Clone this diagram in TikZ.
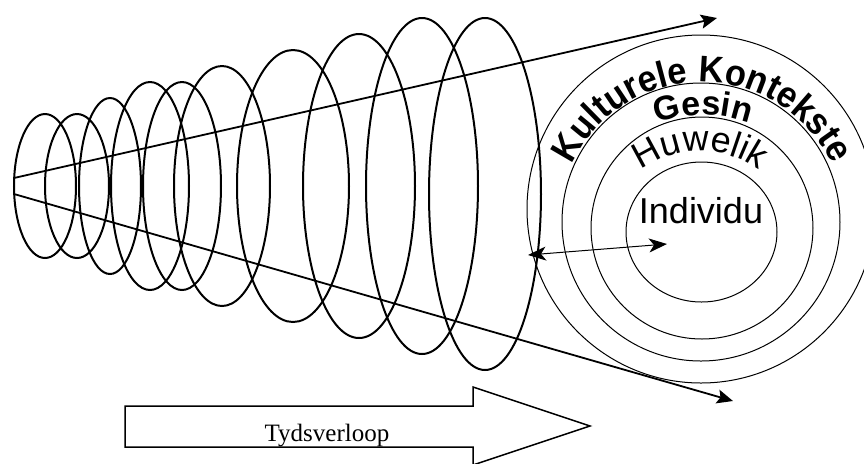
\documentclass[tikz,border=0pt]{standalone}
\usepackage{fontspec}
\setmainfont{Liberation Serif}
\newfontfamily\arialfont{Liberation Sans}
\newfontfamily\arialnarrow[FakeStretch=0.93]{Liberation Sans}
\usetikzlibrary{arrows.meta,decorations.text}

\newcommand\ctxfont{\arialnarrow\bfseries\fontsize{18.5}{18.5}\selectfont}
\newcommand\famfont{\arialfont\bfseries\fontsize{17}{17}\selectfont}
\newcommand\marfont{\arialfont\fontsize{18}{18}\selectfont}

\tikzset{
	ringline/.style={line width=0.5pt},
	coilline/.style={line width=1pt},
	timeray/.style={line width=0.9pt, -{Stealth[length=8pt,width=7pt,inset=1.5pt]}},
	duallink/.style={line width=0.5pt, {Stealth[length=9pt,width=7pt,inset=2.5pt]}-{Stealth[length=9pt,width=7pt,inset=2.5pt]}},
	arctext/.style={decorate, decoration={text along path, text align=center, text={#1}}}
}

\begin{document}
\begin{tikzpicture}[x=0.5pt, y=0.5pt]

	\useasboundingbox (0,0) rectangle (864,-463);

	\foreach \cx/\cy/\rx/\ry in {45/186/31/72, 77/186/32/72, 110/186/31/88, 150/186/39/104, 182/186/39/104, 222/186/48/120, 293/186/56/136, 359/186/56/152, 422/186/56/168, 485/194/56/176}
		\draw[coilline] (\cx,-\cy) ellipse[x radius=\rx, y radius=\ry];

	\draw[ringline] (701,-209) circle[radius=174];
	\draw[ringline] (701,-222) circle[radius=139];
	\draw[ringline] (702,-228) circle[radius=111];
	\draw[ringline] (701.5,-232) ellipse[x radius=75.5, y radius=70];

	\coordinate (uppstart) at (14,-178);
	\coordinate (uppend) at (717,-18);
	\coordinate (lowstart) at (14,-194);
	\coordinate (lowend) at (733,-401);
	\coordinate (ctxedge) at (528,-255);
	\coordinate (core) at (667,-244);

	\draw[timeray] (uppstart) -- (uppend);
	\draw[timeray] (lowstart) -- (lowend);
	\draw[duallink] (ctxedge) -- (core);

	\path[arctext={|\ctxfont|Kulturele Kontekste}] (702,-226) ++(170:144) arc[start angle=170, end angle=10, radius=144];
	\path[arctext={|\famfont|Gesin}] (703,-252) ++(120:137) arc[start angle=120, end angle=60, radius=137];
	\path[arctext={|\marfont|Huwelik}] (700,-252) ++(140:101) arc[start angle=140, end angle=40, radius=101];
	\node[anchor=base, font=\marfont, inner sep=0pt] (individu) at (701,-223) {Individu};

	\draw[line width=0.75pt] (125,-406) -- (473,-406) -- (473,-387) -- (590,-426) -- (473,-465) -- (473,-447) -- (125,-447) -- cycle;
	\node[anchor=base, font=\fontsize{12.5}{12.5}\selectfont, inner sep=0pt] (tyd) at (327,-441) {Tydsverloop};
\end{tikzpicture}
\end{document}
